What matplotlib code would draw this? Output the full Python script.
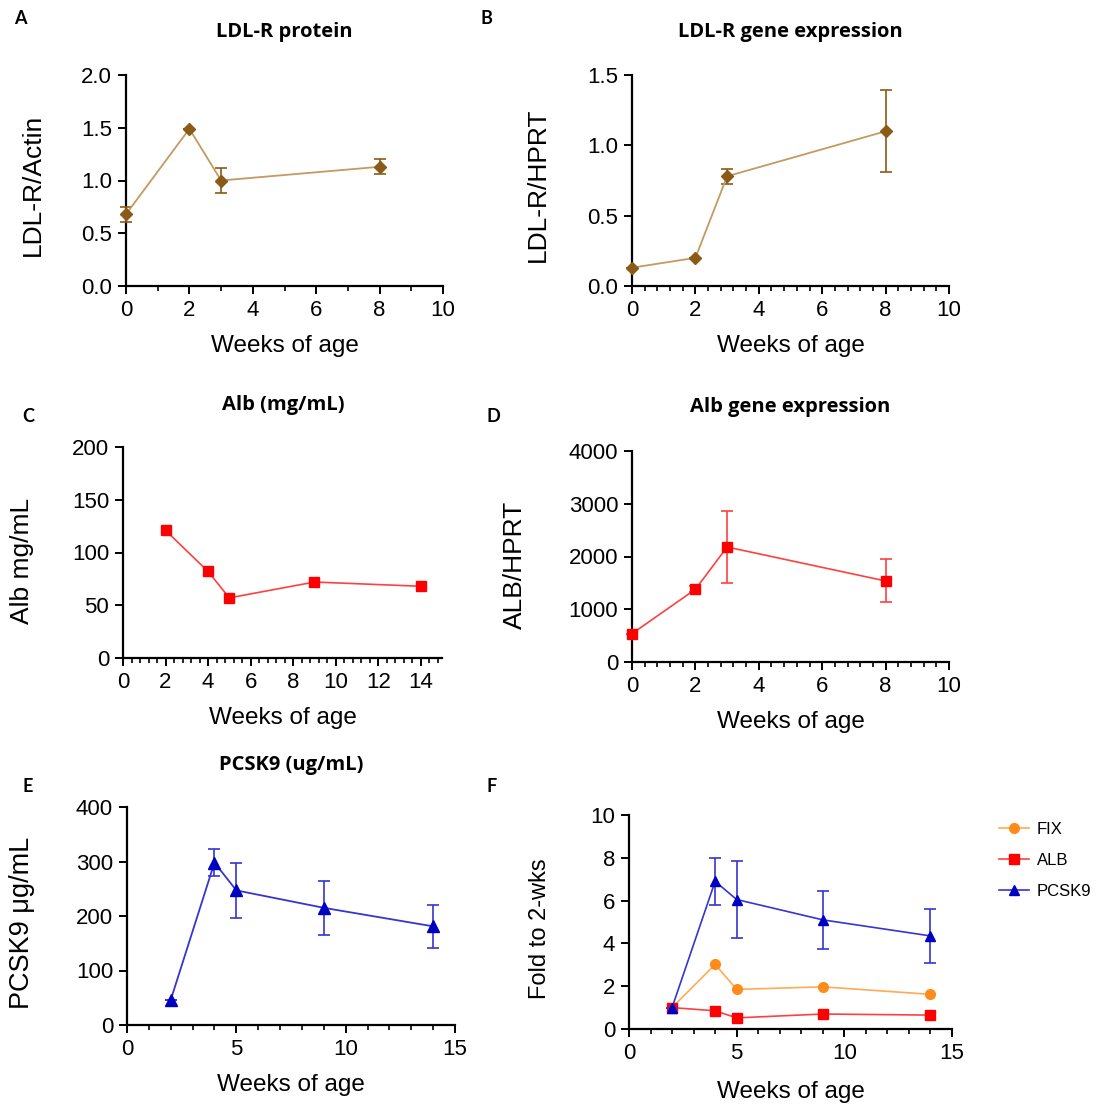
import matplotlib
matplotlib.use('Agg')
import matplotlib.pyplot as plt
from matplotlib.ticker import MultipleLocator
from matplotlib.lines import Line2D

plt.rcParams['font.family'] = ['Liberation Sans', 'DejaVu Sans']

# A: LDL-R protein
wk_a = [0, 2, 3, 8]
ldlr_prot = [0.68, 1.49, 1.00, 1.13]
ldlr_prot_err = [0.07, 0.0, 0.115, 0.07]

# B: LDL-R gene expression
wk_b = [0, 2, 3, 8]
ldlr_gene = [0.13, 0.20, 0.78, 1.10]
ldlr_gene_err = [0.0, 0.0, 0.055, 0.29]

# C: Alb protein
wk_c = [2, 4, 5, 9, 14]
alb_prot = [121, 82, 57, 72, 68]

# D: Alb gene expression
wk_d = [0, 2, 3, 8]
alb_gene = [537, 1378, 2180, 1536]
alb_gene_err = [0, 60, 685, 408]

# E: PCSK9 protein
wk_e = [2, 4, 5, 9, 14]
pcsk9 = [46, 298, 247, 215, 181]
pcsk9_err = [0, 25, 50, 49, 40]

# F: fold change to 2 weeks
wk_f = [2, 4, 5, 9, 14]
fix_fold = [1.0, 3.02, 1.85, 1.97, 1.62]
alb_fold = [1.0, 0.85, 0.52, 0.70, 0.65]
pcsk9_fold = [1.0, 6.9, 6.05, 5.1, 4.35]
pcsk9_fold_err = [0.0, 1.1, 1.8, 1.35, 1.27]
legend_names = ['FIX', 'ALB', 'PCSK9']

W, H = 1099, 1104
fig = plt.figure(figsize=(W / 100, H / 100), dpi=100)

brown_m = '#8B5A16'
brown_l = '#C39A62'
red = '#FF0000'
red_l = '#FF4040'
orange = '#FF8C1A'
orange_l = '#FFAA55'
blue = '#0000C0'
blue_l = '#3535D0'


def make_ax(x0, x1, y0, y1):
    # pixel box (left, right, bottom, top) measured from top-left
    ax = fig.add_axes([x0 / W, (H - y0) / H, (x1 - x0) / W, (y0 - y1) / H])
    for s in ['top', 'right']:
        ax.spines[s].set_visible(False)
    for s in ['left', 'bottom']:
        ax.spines[s].set_linewidth(1.6)
    ax.tick_params(which='major', length=6, width=1.4, labelsize=16, direction='out', pad=4)
    ax.tick_params(which='minor', length=3.5, width=1.2, direction='out')
    ax.tick_params(axis='y', which='minor', length=0)
    ax.set_xlabel('Weeks of age', fontsize=17.5)
    ax.xaxis.set_label_coords(0.5, -49 / (y0 - y1))
    return ax


def panel_text(letter, lx, ly, title=None, tx=None, ty=None):
    fig.text(lx / W, 1 - ly / H, letter, fontsize=13, fontweight='bold',
             family='Lato', ha='center', va='center')
    if title:
        fig.text(tx / W, 1 - ty / H, title, fontsize=14.5, fontweight='bold',
                 family='Open Sans', ha='center', va='center')


ekw = dict(capsize=4, elinewidth=1.2, capthick=1.2, clip_on=False, zorder=3)

# A
ax = make_ax(126, 443, 286, 75)
ax.errorbar(wk_a, ldlr_prot, yerr=ldlr_prot_err, color=brown_l, ecolor=brown_m,
            marker='D', ms=6, mfc=brown_m, mec=brown_m, lw=1.3, **ekw)
ax.set_xlim(0, 10)
ax.set_ylim(0, 2.0)
ax.xaxis.set_major_locator(MultipleLocator(2))
ax.xaxis.set_minor_locator(MultipleLocator(1))
ax.yaxis.set_major_locator(MultipleLocator(0.5))
ax.yaxis.set_major_formatter('{x:.1f}')
ax.set_ylabel('LDL-R/Actin', fontsize=19)
ax.yaxis.set_label_coords(-0.255, 0.48)
panel_text('A', 20, 18, 'LDL-R protein', 284, 32)

# B
ax = make_ax(632, 949, 286, 75)
ax.errorbar(wk_b, ldlr_gene, yerr=ldlr_gene_err, color=brown_l, ecolor=brown_m,
            marker='D', ms=6, mfc=brown_m, mec=brown_m, lw=1.3, **ekw)
ax.set_xlim(0, 10)
ax.set_ylim(0, 1.5)
ax.xaxis.set_major_locator(MultipleLocator(2))
ax.xaxis.set_minor_locator(MultipleLocator(0.4))
ax.yaxis.set_major_locator(MultipleLocator(0.5))
ax.yaxis.set_major_formatter('{x:.1f}')
ax.set_ylabel('LDL-R/HPRT', fontsize=19)
ax.yaxis.set_label_coords(-0.26, 0.48)
panel_text('B', 486, 18, 'LDL-R gene expression', 790, 32)

# C
ax = make_ax(123, 442, 658, 447)
ax.plot(wk_c, alb_prot, color=red_l, marker='s', ms=7.5, mfc=red, mec=red,
        lw=1.2, clip_on=False, zorder=3)
ax.set_xlim(0, 15)
ax.set_ylim(0, 200)
ax.set_xticks(range(0, 15, 2))
ax.xaxis.set_minor_locator(MultipleLocator(0.4))
ax.yaxis.set_major_locator(MultipleLocator(50))
ax.set_ylabel('Alb mg/mL', fontsize=19)
ax.yaxis.set_label_coords(-0.28, 0.46)
panel_text('C', 28, 416, 'Alb (mg/mL)', 283, 405)

# D
ax = make_ax(632, 949, 662, 451)
ax.errorbar(wk_d, alb_gene, yerr=alb_gene_err, color=red_l, ecolor=red_l,
            marker='s', ms=7.5, mfc=red, mec=red, lw=1.2, **ekw)
ax.set_xlim(0, 10)
ax.set_ylim(0, 4000)
ax.xaxis.set_major_locator(MultipleLocator(2))
ax.xaxis.set_minor_locator(MultipleLocator(0.4))
ax.yaxis.set_major_locator(MultipleLocator(1000))
ax.set_ylabel('ALB/HPRT', fontsize=19)
ax.yaxis.set_label_coords(-0.33, 0.46)
panel_text('D', 493, 416, 'Alb gene expression', 790, 407)

# E
ax = make_ax(127, 455, 1025, 807)
ax.errorbar(wk_e, pcsk9, yerr=pcsk9_err, color=blue_l, ecolor=blue_l,
            marker='^', ms=8, mfc=blue, mec=blue, lw=1.3, **ekw)
ax.set_xlim(0, 15)
ax.set_ylim(0, 400)
ax.xaxis.set_major_locator(MultipleLocator(5))
ax.xaxis.set_minor_locator(MultipleLocator(1))
ax.yaxis.set_major_locator(MultipleLocator(100))
ax.set_ylabel('PCSK9 μg/mL', fontsize=19.5)
ax.yaxis.set_label_coords(-0.28, 0.47)
panel_text('E', 28, 786, 'PCSK9 (ug/mL)', 291, 765)

# F
ax = make_ax(629, 952, 1029, 815)
ax.plot(wk_f, fix_fold, color=orange_l, marker='o', ms=7, mfc=orange, mec=orange,
        lw=1.2, clip_on=False, zorder=3)
ax.plot(wk_f, alb_fold, color=red_l, marker='s', ms=7, mfc=red, mec=red,
        lw=1.2, clip_on=False, zorder=3)
ax.errorbar(wk_f, pcsk9_fold, yerr=pcsk9_fold_err, color=blue_l, ecolor=blue_l,
            marker='^', ms=7, mfc=blue, mec=blue, lw=1.2, **ekw)
ax.set_xlim(0, 15)
ax.set_ylim(0, 10)
ax.xaxis.set_major_locator(MultipleLocator(5))
ax.xaxis.set_minor_locator(MultipleLocator(1))
ax.yaxis.set_major_locator(MultipleLocator(2))
ax.set_ylabel('Fold to 2-wks', fontsize=17)
ax.yaxis.set_label_coords(-0.24, 0.47)
ax.xaxis.set_label_coords(0.5, -52 / 214)
handles = [
    Line2D([], [], color=orange_l, marker='o', ms=7, mfc=orange, mec=orange, lw=1.2),
    Line2D([], [], color=red_l, marker='s', ms=7, mfc=red, mec=red, lw=1.2),
    Line2D([], [], color=blue_l, marker='^', ms=7, mfc=blue, mec=blue, lw=1.2),
]
fig.legend(handles, legend_names, loc='upper left',
           bbox_to_anchor=(999 / W, 1 - 822 / H), frameon=False,
           fontsize=12, handlelength=1.8, handletextpad=0.45,
           labelspacing=0.95, borderpad=0, borderaxespad=0)
panel_text('F', 492, 786)

fig.savefig('out.png', dpi=100)
